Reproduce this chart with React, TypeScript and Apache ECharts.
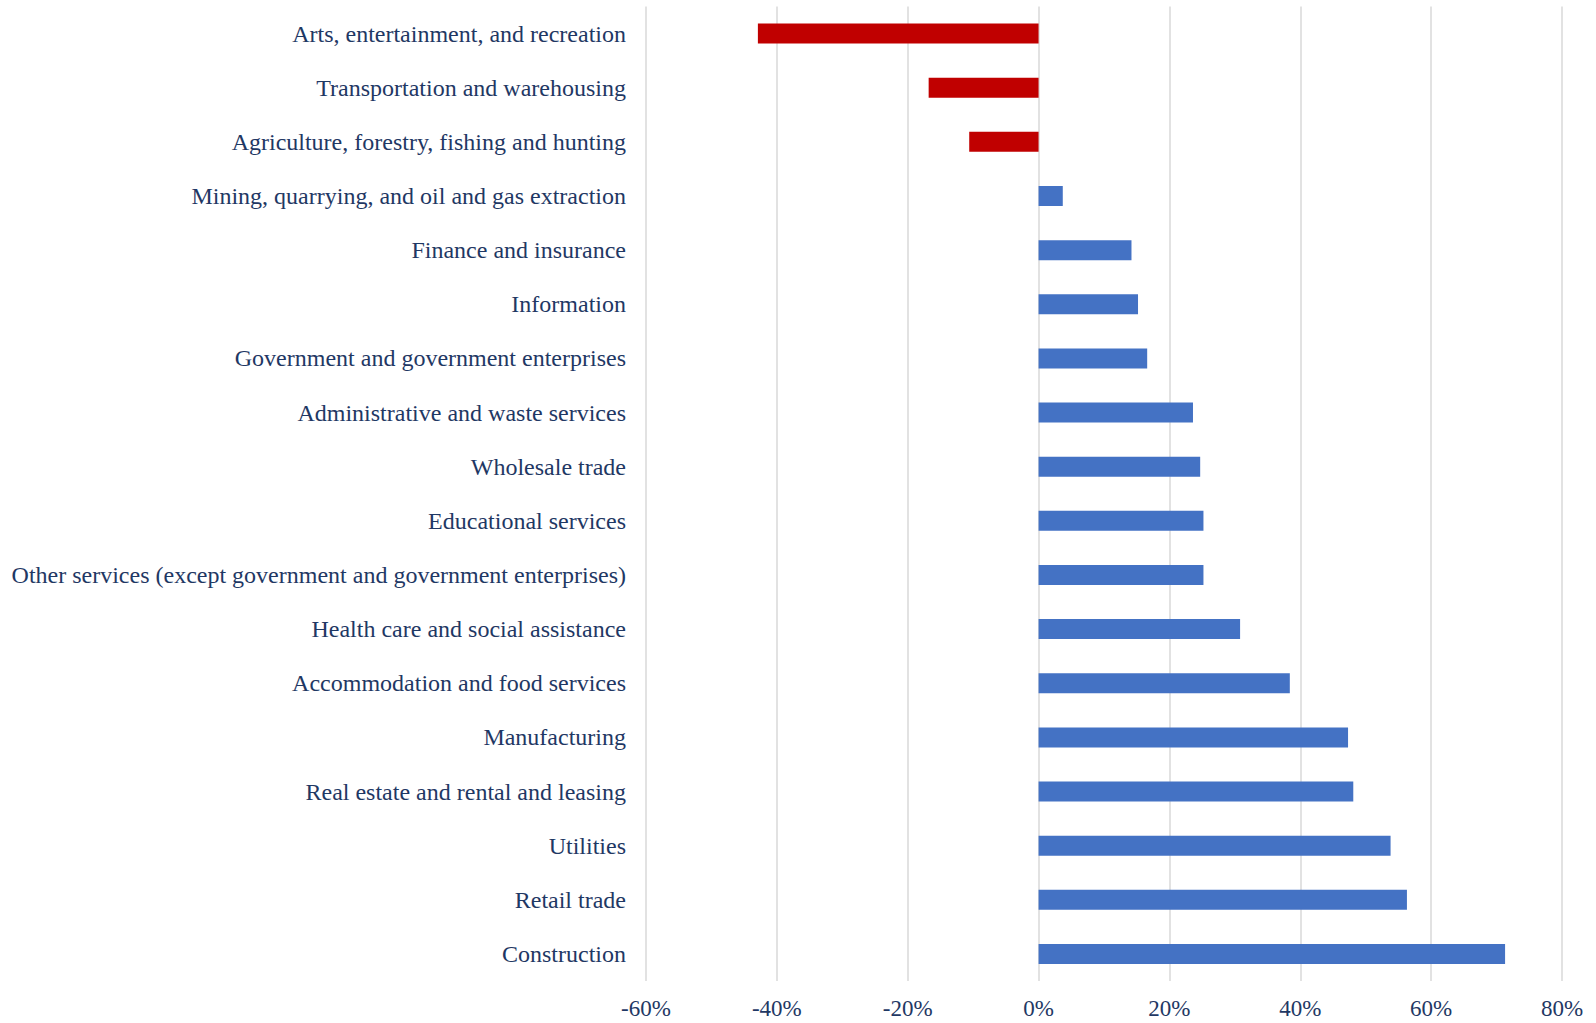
import React, { useEffect, useRef } from "react";
import * as echarts from "echarts";

const categories = [
  "Arts, entertainment, and recreation",
  "Transportation and warehousing",
  "Agriculture, forestry, fishing and hunting",
  "Mining, quarrying, and oil and gas extraction",
  "Finance and insurance",
  "Information",
  "Government and government enterprises",
  "Administrative and waste services",
  "Wholesale trade",
  "Educational services",
  "Other services (except government and government enterprises)",
  "Health care and social assistance",
  "Accommodation and food services",
  "Manufacturing",
  "Real estate and rental and leasing",
  "Utilities",
  "Retail trade",
  "Construction",
];

const values = [
  -42.9, -16.8, -10.6, 3.7, 14.2, 15.2, 16.6, 23.6, 24.7, 25.2, 25.2, 30.8,
  38.4, 47.3, 48.1, 53.8, 56.3, 71.3,
];

const axisMin = -60;
const axisMax = 80;
const axisStep = 20;

const TEXT_COLOR = "#1F3864";
const POS_COLOR = "#4472C4";
const NEG_COLOR = "#C00000";

export default function App() {
  const ref = useRef<HTMLDivElement>(null);
  useEffect(() => {
    document.body.style.margin = "0";
    const chart = echarts.init(ref.current!, null, { renderer: "svg" });
    chart.setOption({
      animation: false,
      backgroundColor: "#ffffff",
      grid: { left: 646, right: 34, top: 6.5, bottom: 42, containLabel: false },
      xAxis: {
        type: "value",
        min: axisMin,
        max: axisMax,
        interval: axisStep,
        axisLine: { show: false },
        axisTick: { show: false },
        splitLine: { show: true, lineStyle: { color: "#D9D9D9", width: 1.5 } },
        axisLabel: {
          formatter: (v: number) => `${v}%`,
          color: TEXT_COLOR,
          fontFamily: "Liberation Serif",
          fontSize: 23,
          margin: 16,
        },
      },
      yAxis: {
        type: "category",
        data: categories,
        inverse: true,
        axisLine: { show: false },
        axisTick: { show: false },
        splitLine: { show: false },
        axisLabel: {
          color: TEXT_COLOR,
          fontFamily: "Liberation Serif",
          fontSize: 24,
          margin: 20,
        },
      },
      series: [
        {
          type: "bar",
          barWidth: 20,
          data: values.map((v) => ({
            value: v,
            itemStyle: { color: v < 0 ? NEG_COLOR : POS_COLOR },
          })),
        },
      ],
    });
    return () => chart.dispose();
  }, []);
  return <div ref={ref} style={{ width: 1596, height: 1023 }} />;
}
